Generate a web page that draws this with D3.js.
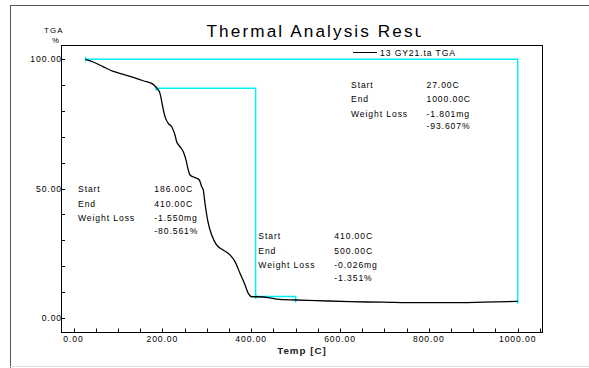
<!DOCTYPE html>
<html><head><meta charset="utf-8">
<script src="https://cdn.jsdelivr.net/npm/d3@7"></script>
<style>
html,body{margin:0;padding:0;background:#fff;}
svg{display:block;font-family:"Liberation Sans",Arial,sans-serif;}
</style></head>
<body><svg id="chart" width="589" height="368"></svg>
<script>
// ---- data ----
const curveTemp = [27, 44.6, 67.1, 89.6, 112.1, 134.6, 157.1, 179.6, 186.9, 194.7, 200.8, 206, 213.4, 221, 228.5, 232.3, 239.7, 247.2, 253.3, 258.4, 262.3, 273.5, 283.2, 288.6, 292.2, 296, 303.5, 311.1, 322.4, 337.2, 352.3, 363.6, 374.8, 386.1, 393.5, 401.2, 412.4, 442.4, 457.5, 500.2, 547.5, 622.5, 696.8, 772.6, 847.5, 922.6, 1000];
const curveWeight = [100, 98.95, 97.1, 95.3, 94.2, 93.0, 91.7, 90.3, 88.9, 86.8, 81.7, 77.8, 75.2, 73.9, 70.7, 68.1, 66.2, 64.2, 61.0, 57.1, 55.2, 54.2, 53.3, 50.7, 49.4, 44.3, 36.5, 32.0, 28.1, 26.2, 24.3, 21.7, 17.2, 12.7, 9.4, 8.1, 8.1, 7.7, 7.2, 6.85, 6.6, 6.2, 6.0, 5.8, 5.8, 6.0, 6.3];
const stepStart = [27, 186, 410];
const stepEnd = [1000, 410, 500];
const stepStartW = [100, 88.8, 8.2];
const stepEndW = [6.39, 8.24, 6.85];
const stepLabels = ["Start", "End", "Weight Loss", ""];
const stepValues = [
  ["27.00C", "1000.00C", "-1.801mg", "-93.607%"],
  ["186.00C", "410.00C", "-1.550mg", "-80.561%"],
  ["410.00C", "500.00C", "-0.026mg", "-1.351%"]
];
const xTickValues = [0, 200, 400, 600, 800, 1000];
const xTickLabels = ["0.00", "200.00", "400.00", "600.00", "800.00", "1000.00"];
const yTickValues = [0, 50, 100];
const yTickLabels = ["0.00", "50.00", "100.00"];
const titleText = "Thermal Analysis Result";
const legendText = "13 GY21.ta TGA";
const xTitle = "Temp [C]";
const yTitle = "TGA";
const yUnit = "%";

// ---- layout ----
const svg = d3.select("#chart");
const P = {left: 61, right: 542, top: 45, bottom: 332};
const x = d3.scaleLinear().domain([0, 1000]).range([73.5, 517.7]);
const y = d3.scaleLinear().domain([0, 100]).range([317.7, 59.3]);
const cyan = "#00f0f8";
const fs = 8.6;

// outer frame
svg.append("line").attr("x1", 10).attr("x2", 589).attr("y1", 5.5).attr("y2", 5.5).attr("stroke", "#555").attr("stroke-width", 1);
svg.append("line").attr("x1", 10.5).attr("x2", 10.5).attr("y1", 5).attr("y2", 368).attr("stroke", "#555").attr("stroke-width", 1);
svg.append("line").attr("x1", 10).attr("x2", 589).attr("y1", 366.5).attr("y2", 366.5).attr("stroke", "#ddd").attr("stroke-width", 1);

const defs = svg.append("defs");
defs.append("clipPath").attr("id", "clipTitle").append("rect").attr("x", 0).attr("y", 0).attr("width", 421).attr("height", 44);
defs.append("clipPath").attr("id", "clipTGA").append("rect").attr("x", 0).attr("y", 0).attr("width", 63.3).attr("height", 44);
defs.append("clipPath").attr("id", "clipLegend").append("rect").attr("x", 0).attr("y", 45).attr("width", 465).attr("height", 20);

// title
svg.append("text").attr("x", 206.5).attr("y", 37).attr("clip-path", "url(#clipTitle)")
  .attr("font-size", 17.2).attr("letter-spacing", 2.1).attr("fill", "#000").text(titleText);

// y title
svg.append("text").attr("x", 44).attr("y", 33).attr("clip-path", "url(#clipTGA)")
  .attr("font-size", 7.8).attr("letter-spacing", 1.2).attr("fill", "#000").text(yTitle);
svg.append("text").attr("x", 55.5).attr("y", 42.5).attr("text-anchor", "middle")
  .attr("font-size", 7.8).attr("fill", "#000").text(yUnit);

// plot frame
svg.append("rect").attr("x", P.left + 0.5).attr("y", P.top + 0.5)
  .attr("width", P.right - P.left).attr("height", P.bottom - P.top)
  .attr("fill", "none").attr("stroke", "#000").attr("stroke-width", 1);

// x ticks (inside)
const xTicks = d3.range(0, 1051, 50);
svg.append("g").selectAll("line").data(xTicks).join("line")
  .attr("x1", d => Math.round(x(d)) + 0.5).attr("x2", d => Math.round(x(d)) + 0.5)
  .attr("y1", P.bottom).attr("y2", P.bottom - 3.5)
  .attr("stroke", "#000").attr("stroke-width", 1);
svg.append("g").selectAll("text").data(xTickValues).join("text")
  .attr("x", d => x(d)).attr("y", 341.5).attr("text-anchor", "middle")
  .attr("font-size", fs).attr("letter-spacing", 0.9).attr("fill", "#000")
  .text((d, i) => xTickLabels[i]);

// y ticks (inside)
const yTicks = d3.range(0, 101, 10);
svg.append("g").selectAll("line").data(yTicks).join("line")
  .attr("x1", P.left).attr("x2", P.left + 4)
  .attr("y1", d => Math.round(y(d)) + 0.5).attr("y2", d => Math.round(y(d)) + 0.5)
  .attr("stroke", "#000").attr("stroke-width", 1);
svg.append("g").selectAll("text").data(yTickValues).join("text")
  .attr("x", P.left + 1).attr("y", d => y(d) + 3).attr("text-anchor", "end")
  .attr("font-size", fs).attr("letter-spacing", 0.9).attr("fill", "#000")
  .text((d, i) => yTickLabels[i]);

// x title
svg.append("text").attr("x", 302).attr("y", 354).attr("text-anchor", "middle")
  .attr("font-size", 9.8).attr("font-weight", "bold").attr("letter-spacing", 1).attr("fill", "#222").text(xTitle);

// legend
svg.append("line").attr("x1", 353).attr("x2", 377).attr("y1", 52.5).attr("y2", 52.5).attr("stroke", "#000");
svg.append("text").attr("x", 380).attr("y", 55.8).attr("clip-path", "url(#clipLegend)")
  .attr("font-size", fs).attr("letter-spacing", 0.9).attr("fill", "#000").text(legendText);

// step lines
stepStart.forEach((s, i) => {
  const pts = [[x(s), y(stepStartW[i])], [x(stepEnd[i]), y(stepStartW[i])], [x(stepEnd[i]), y(stepEndW[i])]];
  svg.append("path").attr("d", d3.line()(pts)).attr("fill", "none").attr("stroke", cyan).attr("stroke-width", 1.4);
  // markers
  svg.append("line").attr("x1", x(s)).attr("x2", x(s)).attr("y1", y(stepStartW[i]) - 2.5).attr("y2", y(stepStartW[i]) + 2.5)
    .attr("stroke", cyan).attr("stroke-width", 1.4);
  svg.append("line").attr("x1", x(stepEnd[i])).attr("x2", x(stepEnd[i])).attr("y1", y(stepEndW[i]) - 2.5).attr("y2", y(stepEndW[i]) + 2.5)
    .attr("stroke", cyan).attr("stroke-width", 1.4);
});

// TGA curve
const curvePts = curveTemp.map((t, i) => [x(t), y(curveWeight[i])]);
svg.append("path").attr("d", d3.line().curve(d3.curveMonotoneX)(curvePts))
  .attr("fill", "none").attr("stroke", "#000").attr("stroke-width", 1.3);

// annotations
const annoPos = [[351, 426.5, 87.5], [78, 154.3, 192.3], [258.3, 334.3, 239.3]];
const lineOff = [0, 14.5, 29, 41.5];
stepValues.forEach((vals, i) => {
  const [lx, vx, by] = annoPos[i];
  const g = svg.append("g").attr("font-size", fs).attr("letter-spacing", 0.9).attr("fill", "#000");
  stepLabels.forEach((lab, j) => {
    if (lab) g.append("text").attr("x", lx).attr("y", by + lineOff[j]).text(lab);
  });
  vals.forEach((v, j) => {
    g.append("text").attr("x", vx).attr("y", by + lineOff[j]).text(v);
  });
});
</script></body></html>
